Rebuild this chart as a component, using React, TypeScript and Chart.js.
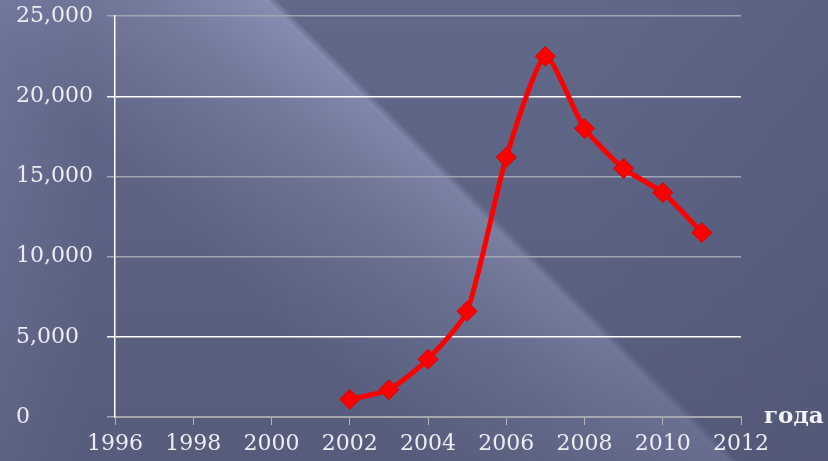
import React, { useEffect, useRef } from "react";
import { Chart, registerables } from "chart.js";

Chart.register(...registerables);

const years = [2002, 2003, 2004, 2005, 2006, 2007, 2008, 2009, 2010, 2011];
const values = [1100, 1700, 3600, 6600, 16200, 22500, 18000, 15500, 14000, 11500];
const xMin = 1996;
const xMax = 2012;
const xStep = 2;
const yMin = 0;
const yMax = 25000;
const yStep = 5000;
const whiteLines = [5000, 20000];
const axisTitle = "года";

const FONT = "'DejaVu Serif', serif";

export default function App() {
  const ref = useRef<HTMLCanvasElement | null>(null);
  useEffect(() => {
    const canvas = ref.current!;
    const titlePlugin = {
      id: "yearTitle",
      afterDraw(chart: any) {
        const ctx = chart.ctx;
        const xs = chart.scales.x;
        ctx.save();
        ctx.font = "bold 23px " + FONT;
        ctx.fillStyle = "#f4f4f8";
        ctx.textAlign = "left";
        ctx.textBaseline = "middle";
        ctx.fillText(axisTitle, xs.right + 23, xs.top);
        ctx.restore();
      },
    };
    const chart = new Chart(canvas, {
      type: "line",
      data: {
        datasets: [
          {
            data: years.map((y, i) => ({ x: y, y: values[i] })),
            borderColor: "#ff0000",
            backgroundColor: "#ff0000",
            borderWidth: 5,
            pointStyle: "rectRot",
            pointRadius: 10,
            pointBorderColor: "#d80000",
            pointBorderWidth: 1,
            pointBackgroundColor: "#ff0000",
            tension: 0.2,
            fill: false,
          },
        ],
      },
      options: {
        animation: false,
        responsive: false,
        devicePixelRatio: 1,
        layout: { padding: { left: 16, top: 14, right: 87, bottom: 0 } },
        plugins: { legend: { display: false }, tooltip: { enabled: false } },
        scales: {
          x: {
            type: "linear",
            min: xMin,
            max: xMax,
            afterFit(scale: any) {
              scale.height = 44;
            },
            ticks: {
              stepSize: xStep,
              padding: 6,
              color: "#ececf2",
              font: { family: FONT, size: 22 },
              callback: (v: any) => String(v),
            },
            grid: {
              drawOnChartArea: false,
              drawTicks: true,
              tickLength: 8,
              color: "#b0b2bc",
            },
            border: { display: true, color: "#a4a6b0", width: 2 },
          },
          y: {
            min: yMin,
            max: yMax,
            afterFit(scale: any) {
              scale.width = 99;
            },
            ticks: {
              stepSize: yStep,
              crossAlign: "far",
              color: "#ececf2",
              font: { family: FONT, size: 22 },
              callback: (v: any) => Number(v).toLocaleString("en-US"),
            },
            grid: {
              tickLength: 8,
              lineWidth: 1.5,
              color: (ctx: any) =>
                whiteLines.includes(ctx.tick?.value) ? "#ffffff" : "#a2a4b0",
            },
            border: { display: true, color: "#ffffff", width: 1.5 },
          },
        },
      },
      plugins: [titlePlugin],
    });
    return () => chart.destroy();
  }, []);

  return (
    <div
      style={{
        position: "fixed",
        left: 0,
        top: 0,
        width: 828,
        height: 461,
        backgroundColor: "#626889",
        backgroundImage: [
          "linear-gradient(180deg, rgba(70,75,105,0) 0%, rgba(70,75,105,0.42) 100%)",
          "linear-gradient(90deg, rgba(150,160,210,0.22) 0px, rgba(150,160,210,0) 90px, rgba(60,65,95,0) 70%, rgba(60,65,95,0.18) 100%)",
          "linear-gradient(45deg, rgba(165,172,210,0) 32%, rgba(165,172,210,0.30) 48%, rgba(165,172,210,0.55) 56.5%, rgba(165,172,210,0) 57.3%)",
        ].join(", "),
      }}
    >
      <canvas ref={ref} width={828} height={461} style={{ display: "block" }} />
    </div>
  );
}
